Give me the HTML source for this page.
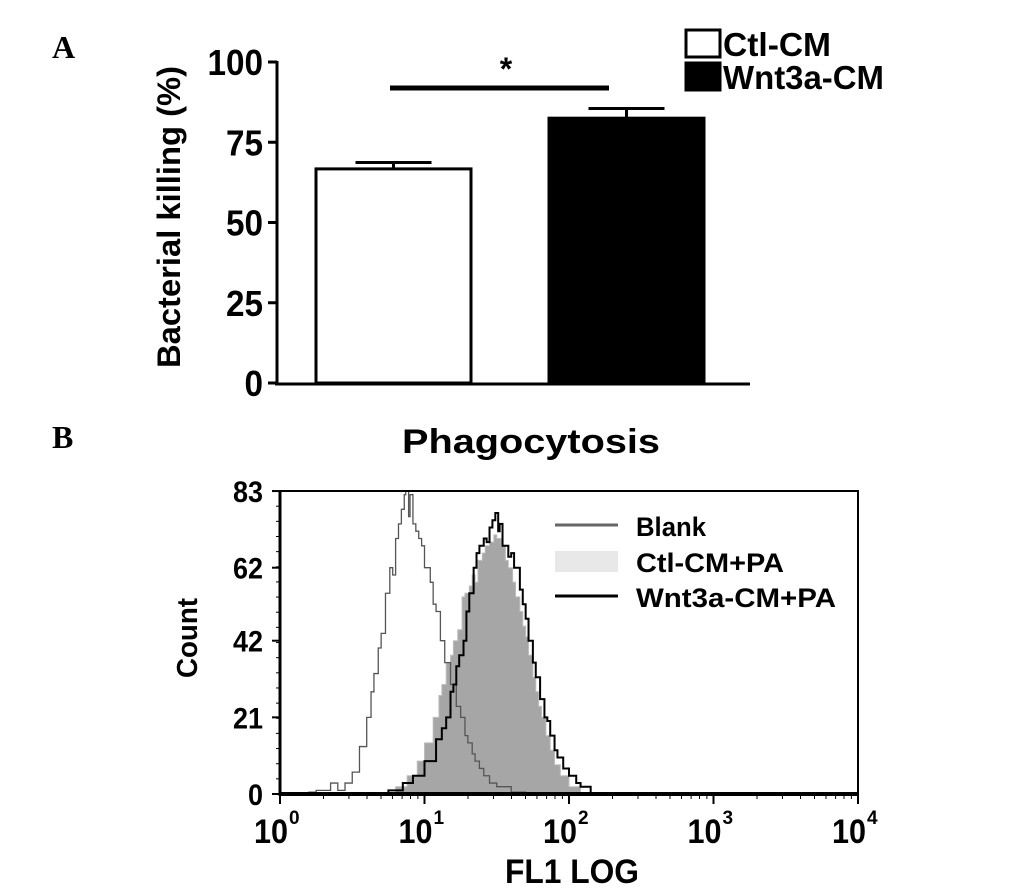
<!DOCTYPE html>
<html><head><meta charset="utf-8"><style>
body{margin:0;background:#fff;}
svg{display:block;font-family:"Liberation Sans",Arial,sans-serif;font-weight:bold;}
</style></head><body>
<svg id="fig" width="1033" height="892" viewBox="0 0 1033 892" xmlns="http://www.w3.org/2000/svg">
<text x="52" y="58" font-family="Liberation Serif,serif" font-size="32">A</text>
<text x="52" y="448" font-family="Liberation Serif,serif" font-size="32">B</text>
<g id="pa"></g>
<g id="pb"></g>
</svg>
<script>
// Panel A data
const barCategories = ["Ctl-CM", "Wnt3a-CM"];
const barValues = [66.7, 82.5];
const barErrors = [2.0, 3.0];
const barTicks = [0, 25, 50, 75, 100];
// Panel B data (log10 FL1, count)
const blankX = [0.1,0.2,0.25,0.3,0.35,0.4,0.45,0.5,0.55,0.6,0.63,0.65,0.68,0.7,0.73,0.76,0.78,0.8,0.82,0.84,0.86,0.87,0.89,0.9,0.92,0.94,0.96,0.98,1.0,1.02,1.04,1.06,1.08,1.11,1.14,1.18,1.22,1.25,1.28,1.3,1.33,1.35,1.38,1.41,1.45,1.5,1.6,1.7];
const blankY = [0,0.5,1,1,3,1,3,6,13,21,28,33,40,44,55,62,60,70,74,78,82,83,76,82,74,72,70,68,62,62,58,52,50,42,36,30,24,21,16,14,11,9,7,5,3,2,0.5,0];
const ctlX = [0.7,0.8,0.88,0.95,1.0,1.06,1.1,1.12,1.15,1.18,1.2,1.23,1.26,1.28,1.31,1.33,1.35,1.37,1.4,1.42,1.45,1.48,1.5,1.53,1.56,1.58,1.61,1.63,1.66,1.68,1.7,1.72,1.75,1.77,1.79,1.81,1.84,1.87,1.9,1.94,2.0,2.08];
const ctlY = [0,2,5,9,14,21,27,30,36,38,42,45,54,55,57,60,58,64,66,68,69,71,70,68,64,62,58,54,50,46,43,38,32,28,24,21,16,12,8,5,2,0];
const wntX = [0.6,0.75,0.85,0.92,1.0,1.08,1.12,1.15,1.18,1.2,1.22,1.24,1.27,1.29,1.31,1.34,1.36,1.38,1.41,1.43,1.45,1.47,1.49,1.51,1.52,1.54,1.56,1.58,1.6,1.62,1.64,1.66,1.68,1.7,1.72,1.75,1.77,1.8,1.83,1.85,1.87,1.9,1.92,1.96,2.0,2.05,2.08,2.15];
const wntY = [0,1,3,5,9,15,18,21,28,30,35,38,42,50,55,62,66,68,70,69,73,75,77,72,74,68,68,65,66,62,62,56,52,48,42,36,32,26,21,20,16,12,10,7,5,3,2,0];
const yTicksB = [0, 21, 42, 62, 83];
const xDecades = [0, 1, 2, 3, 4];
const legendB = ["Blank", "Ctl-CM+PA", "Wnt3a-CM+PA"];

const NS = "http://www.w3.org/2000/svg";
function mk(parent, tag, attrs, text){
  const e = document.createElementNS(NS, tag);
  for (const k in attrs) e.setAttribute(k, attrs[k]);
  if (text !== undefined) e.textContent = text;
  parent.appendChild(e); return e;
}
// ---------- Panel A ----------
const pa = document.getElementById("pa");
const ay = v => 383 - v * 3.21;
const barX = [316, 549], barW = 155;
mk(pa, "line", {x1:277,y1:ay(100)-1,x2:277,y2:385,stroke:"#000","stroke-width":3});
mk(pa, "line", {x1:275,y1:384,x2:750,y2:384,stroke:"#000","stroke-width":3});
barTicks.forEach(t => {
  const tk = mk(pa, "line", {x1:268,y1:ay(t),x2:277,y2:ay(t),stroke:"#000","stroke-width":3});
  
  
  const lb = mk(pa, "text", {x:263,y:ay(t)+13,"text-anchor":"end","font-size":36,"textLength": String(t).length*18.5, "lengthAdjust":"spacingAndGlyphs"}, t);
  
  
});
const yt = mk(pa, "text", {x:0,y:0,"text-anchor":"middle","font-size":32,transform:"translate(180,217) rotate(-90)",textLength:302,lengthAdjust:"spacingAndGlyphs"}, "Bacterial killing (%)");


barValues.forEach((v, i) => {
  const cx = barX[i] + barW/2;
  const eb = mk(pa, "line", {x1:cx,y1:ay(v+barErrors[i]),x2:cx,y2:ay(v),stroke:"#000","stroke-width":3});
  
  
  const cap = mk(pa, "line", {x1:cx-38,y1:ay(v+barErrors[i]),x2:cx+38,y2:ay(v+barErrors[i]),stroke:"#000","stroke-width":3});
  
  
  const r = mk(pa, "rect", {x:barX[i],y:ay(v),width:barW,height:383-ay(v),fill:i?"#000":"#fff",stroke:"#000","stroke-width":3});
  
  
});
mk(pa, "line", {x1:390,y1:88,x2:609,y2:88,stroke:"#000","stroke-width":5,});
mk(pa, "text", {x:506,y:80,"text-anchor":"middle","font-size":32,}, "*");
barCategories.forEach((c, i) => {
  const y0 = i ? 63 : 30;
  const b = mk(pa, "rect", {x:686,y:y0,width:34,height:27,fill:i?"#000":"#fff",stroke:"#000","stroke-width":3});
  
  
  const t = mk(pa, "text", {x:723,y:y0+26,"font-size":33,textLength:i?161:108,lengthAdjust:"spacingAndGlyphs"}, c);
  
  
});
// ---------- Panel B ----------
const pb = document.getElementById("pb");
const bx = l => 280 + l * 144.5;
const by = v => 794 - v * 3.65;
mk(pb, "text", {x:531,y:453,"text-anchor":"middle","font-size":34,textLength:258,lengthAdjust:"spacingAndGlyphs",}, "Phagocytosis");
function path(xs, ys, close){
  let d = "M" + bx(xs[0]) + "," + by(ys[0]);
  for (let i = 1; i < xs.length; i++){
    d += " L" + bx(xs[i]) + "," + by(ys[i-1]) + " L" + bx(xs[i]) + "," + by(ys[i]);
  }
  if (close) d += " Z";
  return d;
}
const ctl = mk(pb, "path", {d:path(ctlX, ctlY, true),fill:"#a6a6a6",stroke:"#bdbdbd","stroke-width":1});


const bl = mk(pb, "path", {d:path(blankX, blankY, false),fill:"none",stroke:"#555","stroke-width":1.3});


const wn = mk(pb, "path", {d:path(wntX, wntY, false),fill:"none",stroke:"#000","stroke-width":2});


mk(pb, "rect", {x:280,y:491,width:578,height:303,fill:"none",stroke:"#000","stroke-width":2,});
mk(pb, "line", {x1:280,y1:794,x2:858,y2:794,stroke:"#000","stroke-width":4});
mk(pb, "line", {x1:280,y1:491,x2:280,y2:796,stroke:"#000","stroke-width":3});
for (let v = 0; v <= 83; v += 4.15){
  mk(pb, "line", {x1:276,y1:by(v),x2:280,y2:by(v),stroke:"#000","stroke-width":1});
}
yTicksB.forEach(t => {
  const tk = mk(pb, "line", {x1:272,y1:by(t),x2:280,y2:by(t),stroke:"#000","stroke-width":2});
  
  
  const lb = mk(pb, "text", {x:263,y:by(t)+11,"text-anchor":"end","font-size":30,textLength:String(t).length*15,lengthAdjust:"spacingAndGlyphs"}, t);
  
  
});
xDecades.forEach(d => {
  mk(pb, "line", {x1:bx(d),y1:794,x2:bx(d),y2:804,stroke:"#000","stroke-width":2});
  if (d < 4) for (let m = 2; m < 10; m++){
    mk(pb, "line", {x1:bx(d+Math.log10(m)),y1:794,x2:bx(d+Math.log10(m)),y2:799,stroke:"#000","stroke-width":1});
  }
  const lb = mk(pb, "text", {x:bx(d)-26,y:843,"font-size":34,textLength:34,lengthAdjust:"spacingAndGlyphs"}, "10");
  
  
  const sp = mk(pb, "text", {x:bx(d)+9,y:824,"font-size":19}, d);
  
  
});
mk(pb, "text", {x:572,y:883,"text-anchor":"middle","font-size":34,textLength:134,lengthAdjust:"spacingAndGlyphs",}, "FL1 LOG");
mk(pb, "text", {x:0,y:0,"text-anchor":"middle","font-size":29,transform:"translate(197,638) rotate(-90)",textLength:80,lengthAdjust:"spacingAndGlyphs",}, "Count");
// legend B
const ly = [525, 561, 596];
const lw = [70, 148, 200];
legendB.forEach((n, i) => {
  let s;
  if (i === 1) s = mk(pb, "rect", {x:555,y:551,width:63,height:21,fill:"#e8e8e8"});
  else s = mk(pb, "line", {x1:555,y1:ly[i],x2:618,y2:ly[i],stroke:i?"#000":"#666","stroke-width":3});
  
  
  const t = mk(pb, "text", {x:636,y:ly[i]+11,"font-size":27,textLength:lw[i],lengthAdjust:"spacingAndGlyphs"}, n);
  
  
});
</script>
</body></html>
